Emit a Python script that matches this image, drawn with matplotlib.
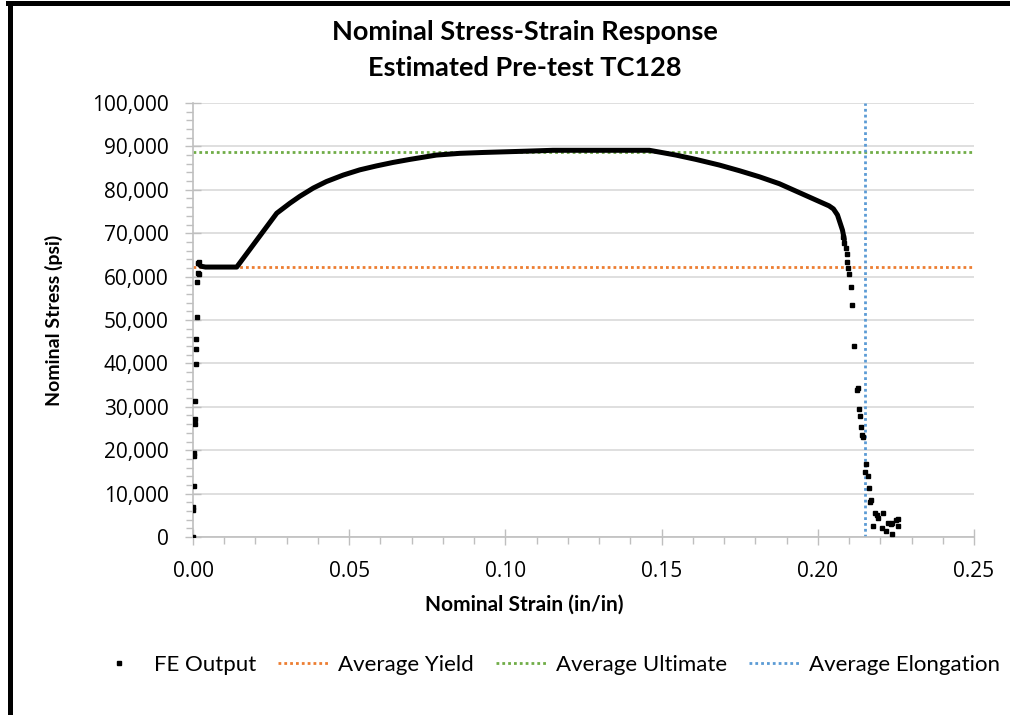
import matplotlib
matplotlib.use("Agg")
import matplotlib.pyplot as plt
from matplotlib.lines import Line2D
from matplotlib.ticker import FuncFormatter, MultipleLocator

# FE output, smooth part of the curve (points close enough to read as a line)
curve_strain = [0.0017, 0.0025, 0.0040, 0.0080, 0.0140, 0.0204, 0.0268, 0.0310,
                0.0342, 0.0385, 0.0427, 0.0481, 0.0534, 0.0587, 0.0640, 0.0694,
                0.0779, 0.0854, 0.0928, 0.1067, 0.1152, 0.1300, 0.1461, 0.1500,
                0.1546, 0.1610, 0.1685, 0.1749, 0.1813, 0.1877, 0.1930, 0.1983,
                0.2036, 0.2050, 0.2063, 0.2079, 0.2085]
curve_stress = [63000, 62400, 62200, 62200, 62200, 68400, 74600, 76900,
                78500, 80400, 81900, 83400, 84600, 85500, 86300, 87000,
                88000, 88400, 88600, 88900, 89100, 89100, 89100, 88600,
                88000, 87000, 85700, 84400, 83000, 81400, 79700, 78000,
                76300, 75600, 74200, 70700, 68500]

# FE output, separate points (elastic loading and fracture)
pts_strain = [0.0000, 0.0001, 0.0001, 0.0003, 0.0004, 0.0004, 0.0005, 0.0006,
              0.0006, 0.0009, 0.0010, 0.0009, 0.0012, 0.0012, 0.0016, 0.0017,
              0.0018, 0.0018,
              0.2081, 0.2085, 0.2090, 0.2092, 0.2095, 0.2098, 0.2101, 0.2105,
              0.2110, 0.2116, 0.2125, 0.2129, 0.2132, 0.2136, 0.2139, 0.2142,
              0.2146, 0.2152, 0.2155, 0.2160, 0.2164, 0.2168, 0.2171, 0.2177,
              0.2184, 0.2188, 0.2194, 0.2205, 0.2210, 0.2218, 0.2226, 0.2233,
              0.2237, 0.2239, 0.2250, 0.2256, 0.2258]
pts_stress = [0, 6200, 6900, 11800, 18600, 19300, 26000, 27100,
              31300, 39900, 43400, 45600, 50700, 58700, 60900, 63100,
              63400, 60700,
              69200, 67800, 66500, 65200, 63400, 62000, 60500, 57500,
              53500, 43900, 33900, 34300, 29600, 27900, 25300, 23500,
              23000, 14900, 16800, 14100, 11400, 8100, 8500, 2500,
              5500, 5100, 4300, 2100, 5500, 1400, 3300, 2900,
              700, 3200, 3900, 2500, 4100]

avg_yield = 62200
avg_ultimate = 88800
avg_elongation = 0.2151

ORANGE = "#ED7D31"
GREEN = "#70AD47"
BLUE = "#5B9BD5"
GRID = "#d9d9d9"
AXIS = "#bfbfbf"

plt.rcParams['font.family'] = ['Lato', 'DejaVu Sans']

fig = plt.figure(figsize=(10.1, 7.15), dpi=100)
ax = fig.add_axes([193 / 1010, 1 - 537 / 715, (974 - 193) / 1010, (537 - 103) / 715])

dots = (0, (1, 1.1))
ax.axhline(avg_yield, color=ORANGE, lw=2, ls=dots, zorder=2, label="Average Yield")
ax.axhline(avg_ultimate, color=GREEN, lw=2, ls=dots, zorder=2, label="Average Ultimate")
ax.axvline(avg_elongation, color=BLUE, lw=2, ls=dots, zorder=2, label="Average Elongation")

ax.plot(curve_strain, curve_stress, color="black", lw=3.6, solid_joinstyle="round",
        solid_capstyle="round", zorder=3)
ax.plot(pts_strain, pts_stress, ls="none", marker="s", ms=3.4, color="black",
        zorder=3, label="FE Output")

ax.set_xlim(0, 0.25)
ax.set_ylim(0, 100000)
ax.xaxis.set_major_locator(MultipleLocator(0.05))
ax.xaxis.set_minor_locator(MultipleLocator(0.01))
ax.yaxis.set_major_locator(MultipleLocator(10000))
ax.yaxis.set_minor_locator(MultipleLocator(2000))
ax.xaxis.set_major_formatter(FuncFormatter(lambda v, p: f"{v:.2f}"))
ax.yaxis.set_major_formatter(FuncFormatter(lambda v, p: f"{v:,.0f}"))

ax.grid(axis="y", color=GRID, lw=1.2, zorder=0)
ax.set_axisbelow(True)
for s in ["top", "right"]:
    ax.spines[s].set_visible(False)
for s in ["left", "bottom"]:
    ax.spines[s].set_color(AXIS)
    ax.spines[s].set_linewidth(1.2)

ax.tick_params(which="major", direction="inout", length=11, width=1, color=AXIS,
               labelsize=15, labelcolor="black", pad=12)
ax.tick_params(which="minor", direction="out", length=5, width=1, color=AXIS)
for lab in ax.get_xticklabels() + ax.get_yticklabels():
    lab.set_fontfamily(['Open Sans', 'DejaVu Sans'])

fig.text(525 / 1010, 1 - 32 / 715, "Nominal Stress-Strain Response", ha="center",
         va="center", fontsize=19.5, fontweight="bold")
fig.text(525 / 1010, 1 - 68 / 715, "Estimated Pre-test TC128", ha="center",
         va="center", fontsize=19.5, fontweight="bold")
fig.text(524 / 1010, 1 - 605 / 715, "Nominal Strain (in/in)", ha="center",
         va="center", fontsize=15, fontweight="bold")
fig.text(54 / 1010, 1 - 320 / 715, "Nominal Stress (psi)", ha="center",
         va="center", rotation=90, fontsize=14, fontweight="bold")

handles, labels = ax.get_legend_handles_labels()
order = [3, 0, 1, 2]
fig.legend([handles[i] for i in order], [labels[i] for i in order], ncol=4,
           loc="center", bbox_to_anchor=(547 / 1010, 1 - 665 / 715), frameon=False,
           fontsize=16, handlelength=2.25, handletextpad=0.45, columnspacing=1.0,
           markerscale=0.7)

# chart border (visible on top and left in the reference)
fig.add_artist(Line2D([9.5 / 1010, 9.5 / 1010], [0, 1 - 2.5 / 715], color="black",
                      lw=3.6, transform=fig.transFigure))
fig.add_artist(Line2D([7.5 / 1010, 1], [1 - 2.5 / 715, 1 - 2.5 / 715], color="black",
                      lw=3.6, transform=fig.transFigure))

fig.savefig("out.png", dpi=100)
